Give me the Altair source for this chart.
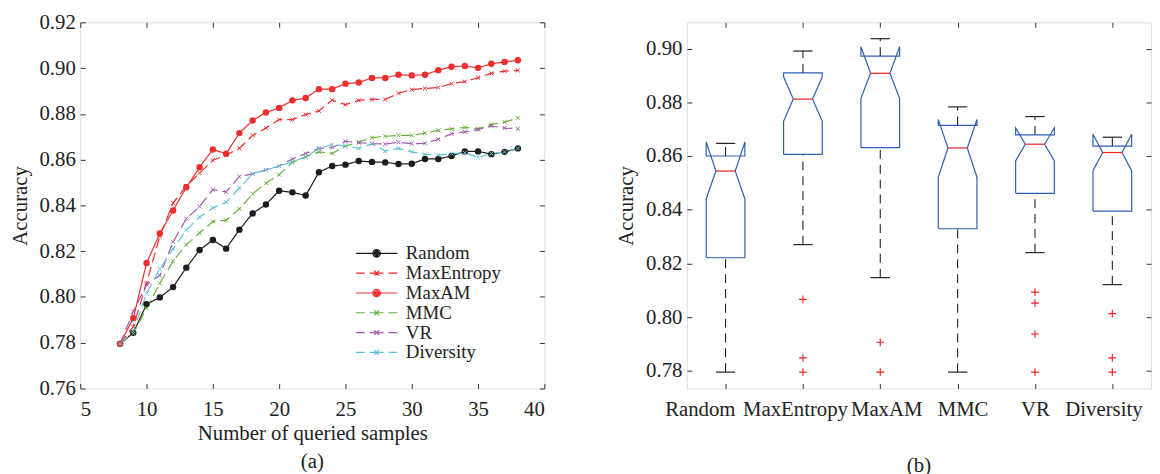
import json
import altair as alt
import pandas as pd

# ---------------- data ----------------
n_queried = list(range(8, 39))
series_names = ["Random", "MaxEntropy", "MaxAM", "MMC", "VR", "Diversity"]

acc_random = [0.7795, 0.7843, 0.7968, 0.7998, 0.8043, 0.8128, 0.8205, 0.8249, 0.8211, 0.8294,
              0.8365, 0.8404, 0.8464, 0.8457, 0.8443, 0.8545, 0.8572, 0.8578, 0.8594, 0.8590,
              0.8588, 0.8581, 0.8582, 0.8603, 0.8603, 0.8616, 0.8636, 0.8636, 0.8624, 0.8634, 0.8649]
acc_maxentropy = [0.7795, 0.7870, 0.8060, 0.8265, 0.8411, 0.8485, 0.8541, 0.8597, 0.8620, 0.8649,
                  0.8706, 0.8738, 0.8775, 0.8775, 0.8797, 0.8813, 0.8860, 0.8840, 0.8859, 0.8863,
                  0.8863, 0.8890, 0.8906, 0.8911, 0.8915, 0.8932, 0.8941, 0.8958, 0.8977, 0.8987, 0.8990]
acc_maxam = [0.7795, 0.7907, 0.8148, 0.8277, 0.8378, 0.8479, 0.8567, 0.8644, 0.8626, 0.8716,
             0.8771, 0.8806, 0.8826, 0.8859, 0.8869, 0.8908, 0.8908, 0.8932, 0.8937, 0.8957,
             0.8957, 0.8971, 0.8968, 0.8971, 0.8991, 0.9006, 0.9009, 0.9001, 0.9019, 0.9027, 0.9034]
acc_mmc = [0.7795, 0.7840, 0.7951, 0.8059, 0.8156, 0.8228, 0.8280, 0.8329, 0.8335, 0.8385,
           0.8450, 0.8497, 0.8534, 0.8588, 0.8613, 0.8634, 0.8627, 0.8659, 0.8677, 0.8696,
           0.8702, 0.8706, 0.8706, 0.8716, 0.8728, 0.8734, 0.8741, 0.8735, 0.8754, 0.8764, 0.8782]
acc_vr = [0.7795, 0.7936, 0.8054, 0.8094, 0.8241, 0.8342, 0.8395, 0.8469, 0.8459, 0.8526,
          0.8538, 0.8555, 0.8572, 0.8603, 0.8627, 0.8649, 0.8653, 0.8680, 0.8674, 0.8670,
          0.8668, 0.8676, 0.8670, 0.8671, 0.8689, 0.8713, 0.8721, 0.8731, 0.8747, 0.8738, 0.8735]
acc_diversity = [0.7795, 0.7850, 0.8015, 0.8123, 0.8210, 0.8292, 0.8349, 0.8389, 0.8414, 0.8476,
                 0.8538, 0.8555, 0.8572, 0.8591, 0.8612, 0.8649, 0.8666, 0.8659, 0.8649, 0.8670,
                 0.8637, 0.8649, 0.8634, 0.8623, 0.8620, 0.8626, 0.8630, 0.8610, 0.8626, 0.8634, 0.8649]

# box plot statistics per method
box_q1 = [0.8221, 0.8606, 0.8631, 0.8329, 0.8461, 0.8395]
box_median = [0.8544, 0.8812, 0.8908, 0.8630, 0.8644, 0.8613]
box_q3 = [0.8600, 0.8910, 0.8972, 0.8714, 0.8679, 0.8637]
box_notch_lo = [0.8440, 0.8729, 0.8815, 0.8521, 0.8582, 0.8545]
box_notch_hi = [0.8652, 0.8895, 0.9007, 0.8736, 0.8705, 0.8681]
box_whisker_lo = [0.7795, 0.8270, 0.8147, 0.7795, 0.8240, 0.8121]
box_whisker_hi = [0.8647, 0.8991, 0.9037, 0.8783, 0.8747, 0.8670]
outlier_method = ["MaxEntropy", "MaxEntropy", "MaxEntropy", "MaxAM", "MaxAM",
                  "VR", "VR", "VR", "VR", "Diversity", "Diversity", "Diversity"]
outlier_value = [0.8066, 0.7848, 0.7795, 0.7906, 0.7795,
                 0.8093, 0.8052, 0.7937, 0.7795, 0.8013, 0.7848, 0.7795]

# ---------------- styles ----------------
FONT = "Liberation Serif"
FS = 21
LEG_FS = 19
W, H = 469, 370
line_colors = ["#1c1c1c", "#ee2e2e", "#ee2e2e", "#68b03c", "#a458b4", "#5cc6d6"]
line_dashes = [[1, 0], [10, 5], [1, 0], [10, 5], [10, 5], [10, 5]]
label_shift = [-26, -8, 6, 5, 0, -9]   # x-label nudges of panel (b), px


def ring(r):
    return f"M{r},0A{r},{r},0,1,1,{-r},0A{r},{r},0,1,1,{r},0Z"


DOT = "M-4.2,0L4.2,0" + ring(0.75) + ring(0.5) + ring(0.25)
XMARK = "M-4.2,0L-2.4,0M-1.4,0L1.4,0M2.4,0L4.2,0M-0.5,-0.5L0.5,0.5M-0.5,0.5L0.5,-0.5"
legend_paths = [DOT, XMARK, DOT, XMARK, XMARK, XMARK]
BOX_BLUE = "#2f5fb2"
MED_RED = "#f01e1e"
BOX_HALF = 0.25
NOTCH_HALF = 0.125
CAP_HALF = 0.125

# ---------------- left panel: learning curves ----------------
all_acc = [acc_random, acc_maxentropy, acc_maxam, acc_mmc, acc_vr, acc_diversity]
rows = []
for name, vals in zip(series_names, all_acc):
    for xq, v in zip(n_queried, vals):
        rows.append({"n": xq, "acc": v, "method": name})
curve_df = pd.DataFrame(rows)

# data layers use their own (reordered) domain so that the legend below stays separate
data_domain = list(reversed(series_names))
color_of = dict(zip(series_names, line_colors))
dash_of = dict(zip(series_names, line_dashes))
color_scale = alt.Scale(domain=data_domain, range=[color_of[n] for n in data_domain])
dash_scale = alt.Scale(domain=data_domain, range=[dash_of[n] for n in data_domain])

xL = alt.Scale(domain=[5, 40], nice=False)
yL = alt.Scale(domain=[0.76, 0.92], nice=False, zero=False)
xL_ticks = list(range(5, 41, 5))
yL_ticks = [round(0.76 + 0.02 * i, 2) for i in range(9)]

lab_axis = dict(labelFont=FONT, labelFontSize=FS, titleFont=FONT, titleFontSize=FS,
                titleFontWeight="normal", labelColor="#222", titleColor="#222",
                domain=False, ticks=False, grid=False, labelOverlap=False)
tick_axis = dict(labels=False, title=None, domain=False, grid=False, ticks=True,
                 tickSize=5, tickColor="#333", tickWidth=1)

base_left = alt.Chart(curve_df)

lines = base_left.mark_line(strokeWidth=1.2).encode(
    x=alt.X("n:Q", scale=xL, axis=alt.Axis(values=xL_ticks, title="Number of queried samples",
                                             labelPadding=10, titlePadding=4, **lab_axis)),
    y=alt.Y("acc:Q", scale=yL, axis=alt.Axis(values=yL_ticks, format=".2f", title="Accuracy",
                                               labelPadding=5, titlePadding=9, **lab_axis)),
    color=alt.Color("method:N", scale=color_scale, legend=None),
    strokeDash=alt.StrokeDash("method:N", scale=dash_scale, legend=None),
    detail="method:N",
)

circles = base_left.mark_point(filled=True, size=42, shape="circle", opacity=1).encode(
    x=alt.X("n:Q", scale=xL, axis=alt.Axis(values=xL_ticks, orient="top", offset=-H, **tick_axis)),
    y=alt.Y("acc:Q", scale=yL, axis=alt.Axis(values=yL_ticks, orient="right", offset=-W, **tick_axis)),
    color=alt.Color("method:N", scale=color_scale, legend=None),
).transform_filter(alt.FieldOneOfPredicate(field="method", oneOf=["Random", "MaxAM"]))

crosses = base_left.mark_point(filled=False, size=16, strokeWidth=1,
                               shape="M-1,-1L1,1M-1,1L1,-1", opacity=1).encode(
    x=alt.X("n:Q", scale=xL, axis=alt.Axis(values=xL_ticks, orient="bottom", offset=-H, **tick_axis)),
    y=alt.Y("acc:Q", scale=yL, axis=alt.Axis(values=yL_ticks, orient="left", offset=-W, **tick_axis)),
    color=alt.Color("method:N", scale=color_scale, legend=None),
).transform_filter(alt.FieldOneOfPredicate(field="method", oneOf=["MaxEntropy", "MMC", "VR", "Diversity"]))

legend_kw = dict(title=None, orient="none", legendX=290, legendY=224, labelFont=FONT,
                 labelFontSize=LEG_FS, labelColor="#222", labelOffset=20, rowPadding=0,
                 symbolSize=100, symbolStrokeWidth=1.2, padding=0)
legend_layer = base_left.mark_point(filled=False, opacity=1, strokeWidth=1.2).encode(
    x=alt.X("n:Q", scale=xL, axis=None),
    y=alt.Y("acc:Q", scale=yL, axis=None),
    shape=alt.Shape("method:N", scale=alt.Scale(domain=series_names, range=legend_paths),
                    legend=alt.Legend(**legend_kw)),
    stroke=alt.Stroke("method:N", scale=alt.Scale(domain=series_names, range=line_colors),
                      legend=alt.Legend(**legend_kw)),
).transform_filter("false")

left = alt.layer(lines, circles, crosses, legend_layer).resolve_axis(
    x="independent", y="independent").properties(
    width=W, height=H,
    title=alt.TitleParams("(a)", orient="bottom", font=FONT, fontSize=FS, fontWeight="normal",
                          color="#222", offset=7))

# ---------------- right panel: notched box plots ----------------
poly_rows = []
for i, name in enumerate(series_names):
    c = i + 1
    q1, q3, md = box_q1[i], box_q3[i], box_median[i]
    nl, nh = box_notch_lo[i], box_notch_hi[i]
    verts = [(c - BOX_HALF, q1), (c + BOX_HALF, q1), (c + BOX_HALF, nl), (c + NOTCH_HALF, md),
             (c + BOX_HALF, nh), (c + BOX_HALF, q3), (c - BOX_HALF, q3), (c - BOX_HALF, nh),
             (c - NOTCH_HALF, md), (c - BOX_HALF, nl), (c - BOX_HALF, q1)]
    for k, (vx, vy) in enumerate(verts):
        poly_rows.append({"method": name, "k": k, "px": vx, "py": vy})
poly_df = pd.DataFrame(poly_rows)

stat_df = pd.DataFrame({
    "method": series_names,
    "pos": [i + 1 for i in range(len(series_names))],
    "q1": box_q1, "q3": box_q3, "med": box_median,
    "wlo": box_whisker_lo, "whi": box_whisker_hi,
})
stat_df["nl"] = stat_df["pos"] - NOTCH_HALF
stat_df["nr"] = stat_df["pos"] + NOTCH_HALF
stat_df["cl"] = stat_df["pos"] - CAP_HALF
stat_df["cr"] = stat_df["pos"] + CAP_HALF

out_df = pd.DataFrame({"method": outlier_method, "value": outlier_value})
out_df["pos"] = out_df["method"].map({n: i + 1 for i, n in enumerate(series_names)})

xR = alt.Scale(domain=[0.5, 6.5], nice=False, zero=False)
yR = alt.Scale(domain=[0.7734, 0.9098], nice=False, zero=False)
xR_ticks = [1, 2, 3, 4, 5, 6]
yR_ticks = [0.78, 0.80, 0.82, 0.84, 0.86, 0.88, 0.90]
label_expr = json.dumps(series_names) + "[datum.value - 1]"
label_offset = {"condition": [{"test": f"datum.value === {i + 1}", "value": s}
                              for i, s in enumerate(label_shift)], "value": 0}

boxes = alt.Chart(poly_df).mark_line(color=BOX_BLUE, strokeWidth=1.2).encode(
    x=alt.X("px:Q", scale=xR, axis=alt.Axis(values=xR_ticks, labelExpr=label_expr, title=None,
                                              labelPadding=10, labelOffset=label_offset, **lab_axis)),
    y=alt.Y("py:Q", scale=yR, axis=alt.Axis(values=yR_ticks, format=".2f", title="Accuracy",
                                              labelPadding=5, titlePadding=9, **lab_axis)),
    order="k:Q",
    detail="method:N",
)

medians = alt.Chart(stat_df).mark_rule(color=MED_RED, strokeWidth=1.2).encode(
    x=alt.X("nl:Q", scale=xR, axis=alt.Axis(values=xR_ticks, orient="top", offset=-H, **tick_axis)),
    x2="nr:Q",
    y=alt.Y("med:Q", scale=yR, axis=alt.Axis(values=yR_ticks, orient="right", offset=-W, **tick_axis)),
)

whisk_hi = alt.Chart(stat_df).mark_rule(color="#222", strokeWidth=1.1, strokeDash=[9, 6]).encode(
    x=alt.X("pos:Q", scale=xR, axis=None),
    y=alt.Y("q3:Q", scale=yR, axis=None), y2="whi:Q")
whisk_lo = alt.Chart(stat_df).mark_rule(color="#222", strokeWidth=1.1, strokeDash=[9, 6]).encode(
    x=alt.X("pos:Q", scale=xR, axis=None),
    y=alt.Y("wlo:Q", scale=yR, axis=None), y2="q1:Q")

caps_hi = alt.Chart(stat_df).mark_rule(color="#222", strokeWidth=1.2).encode(
    x=alt.X("cl:Q", scale=xR, axis=alt.Axis(values=xR_ticks, orient="bottom", offset=-H, **tick_axis)),
    x2="cr:Q",
    y=alt.Y("whi:Q", scale=yR, axis=alt.Axis(values=yR_ticks, orient="left", offset=-W, **tick_axis)),
)
caps_lo = alt.Chart(stat_df).mark_rule(color="#222", strokeWidth=1.2).encode(
    x=alt.X("cl:Q", scale=xR, axis=None), x2="cr:Q",
    y=alt.Y("wlo:Q", scale=yR, axis=None))

outliers = alt.Chart(out_df).mark_point(shape="M-1,0L1,0M0,-1L0,1", size=60, filled=False,
                                        color=MED_RED, strokeWidth=1.1, opacity=1).encode(
    x=alt.X("pos:Q", scale=xR, axis=None),
    y=alt.Y("value:Q", scale=yR, axis=None))

right = alt.layer(boxes, medians, whisk_hi, whisk_lo, caps_hi, caps_lo, outliers).resolve_axis(
    x="independent", y="independent").properties(
    width=W, height=H,
    title=alt.TitleParams("(b)", orient="bottom", font=FONT, fontSize=FS, fontWeight="normal",
                          color="#222", offset=36))

chart = alt.hconcat(left, right, spacing=70).properties(
    padding={"left": 0, "top": 0, "right": 0, "bottom": 0}
).configure_view(stroke="#3a3a3a", strokeWidth=1).configure(background="white")

chart.save("out.html", embed_options={"renderer": "svg", "actions": False})
